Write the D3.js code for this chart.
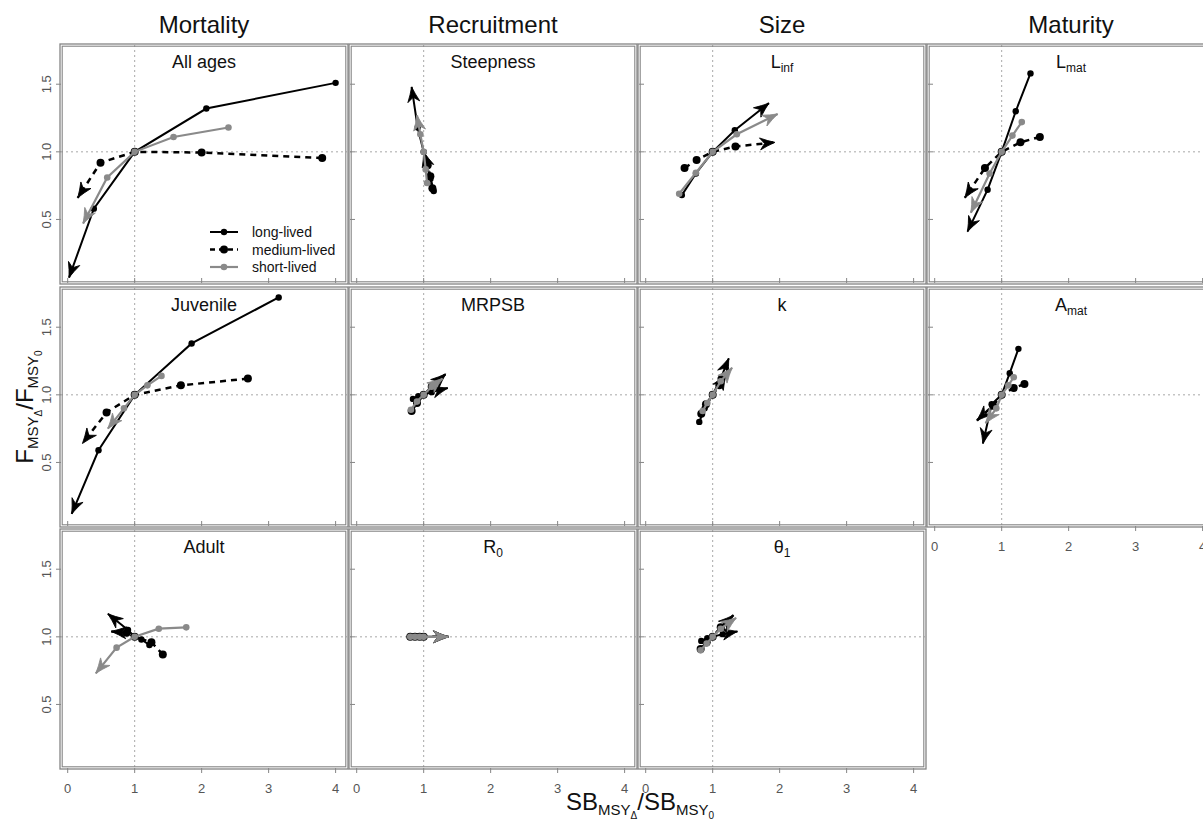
<!DOCTYPE html>
<html>
<head>
<meta charset="utf-8">
<script src="https://cdnjs.cloudflare.com/ajax/libs/d3/7.8.5/d3.min.js"></script>
<style>
  body { margin: 0; background: #fff; }
  svg { display: block; font-family: "Liberation Sans", Arial, sans-serif; }
</style>
</head>
<body>
<svg id="chart" width="1203" height="823"></svg>
<script>
// each series: points in order, the last one is the arrow tip
var allAgesLong = [[4.0, 1.51], [2.07, 1.32], [1, 1], [0.39, 0.58], [0.02, 0.07]];
var allAgesMedium = [[3.8, 0.955], [2.0, 0.995], [1, 1], [0.49, 0.92], [0.15, 0.66]];
var allAgesShort = [[2.4, 1.18], [1.58, 1.11], [1, 1], [0.59, 0.81], [0.23, 0.47]];

var steepLong = [[1.15, 0.71], [1.1, 0.8], [1, 1], [0.91, 1.18], [0.82, 1.48]];
var steepMedium = [[1.13, 0.73], [1.1, 0.82], [1.06, 0.9], [1.0, 1.0]];
var steepShort = [[1.05, 0.77], [1.03, 0.87], [1, 1], [0.95, 1.13], [0.9, 1.27]];

var linfLong = [[0.54, 0.68], [0.75, 0.84], [1, 1], [1.33, 1.16], [1.84, 1.36]];
var linfMedium = [[0.58, 0.88], [0.76, 0.94], [1, 1], [1.34, 1.04], [1.93, 1.07]];
var linfShort = [[0.5, 0.69], [0.75, 0.845], [1, 1], [1.36, 1.13], [1.97, 1.28]];

var lmatLong = [[1.43, 1.58], [1.21, 1.30], [1, 1], [0.79, 0.72], [0.49, 0.41]];
var lmatMedium = [[1.57, 1.11], [1.28, 1.07], [1, 1], [0.75, 0.88], [0.45, 0.66]];
var lmatShort = [[1.3, 1.22], [1.16, 1.12], [1, 1], [0.82, 0.84], [0.54, 0.55]];

var juvLong = [[3.15, 1.72], [1.85, 1.38], [1, 1], [0.46, 0.59], [0.06, 0.12]];
var juvMedium = [[2.69, 1.12], [1.69, 1.07], [1, 1], [0.58, 0.87], [0.22, 0.64]];
var juvShort = [[1.4, 1.14], [1.19, 1.07], [1, 1], [0.84, 0.9], [0.6, 0.75]];

var mrpsbLong = [[0.84, 0.97], [0.92, 0.99], [1, 1], [1.12, 1.02], [1.36, 1.05]];
var mrpsbMedium = [[0.82, 0.88], [0.9, 0.94], [1, 1], [1.12, 1.06], [1.33, 1.155]];
var mrpsbShort = [[0.81, 0.89], [0.9, 0.95], [1, 1], [1.12, 1.06], [1.28, 1.12]];

var kLong = [[0.8, 0.8], [0.88, 0.9], [1, 1], [1.12, 1.12], [1.24, 1.27]];
var kMedium = [[0.83, 0.86], [0.9, 0.93], [1, 1], [1.1, 1.07], [1.2, 1.15]];
var kShort = [[0.85, 0.88], [0.92, 0.94], [1, 1], [1.12, 1.1], [1.29, 1.2]];

var amatLong = [[1.25, 1.34], [1.12, 1.16], [1, 1], [0.85, 0.93], [0.72, 0.64]];
var amatMedium = [[1.34, 1.08], [1.18, 1.05], [1, 1], [0.87, 0.92], [0.63, 0.81]];
var amatShort = [[1.18, 1.13], [1.1, 1.07], [1, 1], [0.92, 0.9], [0.76, 0.79]];

var adultLong = [[1.22, 0.94], [1.1, 0.98], [1, 1], [0.9, 1.05], [0.6, 1.17]];
var adultMedium = [[1.42, 0.87], [1.25, 0.96], [1, 1], [0.88, 1.03], [0.65, 1.04]];
var adultShort = [[1.77, 1.07], [1.36, 1.06], [1, 1], [0.73, 0.92], [0.42, 0.73]];

var r0Long = [[0.8, 1], [0.87, 1], [0.94, 1], [1, 1], [1.37, 1]];
var r0Medium = [[0.8, 1], [0.87, 1], [0.94, 1], [1, 1], [1.37, 1]];
var r0Short = [[0.8, 1], [0.87, 1], [0.94, 1], [1, 1], [1.37, 1]];

var thetaLong = [[0.83, 0.97], [0.92, 0.99], [1, 1], [1.15, 1.02], [1.37, 1.04]];
var thetaMedium = [[0.82, 0.91], [0.91, 0.96], [1, 1], [1.12, 1.07], [1.31, 1.16]];
var thetaShort = [[0.82, 0.9], [0.91, 0.95], [1, 1], [1.12, 1.06], [1.35, 1.14]];

var columnTitles = ['Mortality', 'Recruitment', 'Size', 'Maturity'];
var seriesNames = ['long-lived', 'medium-lived', 'short-lived'];
var xTicks = [0, 1, 2, 3, 4];
var yTicks = [0.5, 1.0, 1.5];

// row, col, label [main, subscript], series
var panels = [
  {row: 0, col: 0, label: ['All ages', ''], series: [allAgesLong, allAgesMedium, allAgesShort]},
  {row: 0, col: 1, label: ['Steepness', ''], series: [steepLong, steepMedium, steepShort]},
  {row: 0, col: 2, label: ['L', 'inf'], series: [linfLong, linfMedium, linfShort]},
  {row: 0, col: 3, label: ['L', 'mat'], series: [lmatLong, lmatMedium, lmatShort]},
  {row: 1, col: 0, label: ['Juvenile', ''], series: [juvLong, juvMedium, juvShort]},
  {row: 1, col: 1, label: ['MRPSB', ''], series: [mrpsbLong, mrpsbMedium, mrpsbShort]},
  {row: 1, col: 2, label: ['k', ''], series: [kLong, kMedium, kShort]},
  {row: 1, col: 3, label: ['A', 'mat'], series: [amatLong, amatMedium, amatShort]},
  {row: 2, col: 0, label: ['Adult', ''], series: [adultLong, adultMedium, adultShort]},
  {row: 2, col: 1, label: ['R', '0'], series: [r0Long, r0Medium, r0Short]},
  {row: 2, col: 2, label: ['\u03b8', '1'], series: [thetaLong, thetaMedium, thetaShort]}
];

var styles = [
  {color: '#000', width: 2, dash: null, r: 3.2},
  {color: '#000', width: 2.5, dash: '6,5', r: 4},
  {color: '#8a8a8a', width: 2.2, dash: null, r: 3.3}
];

var colX = [61, 350, 639, 928],
    rowY = [45, 288, 530],
    pw = 286,
    ph = 238,
    frame = '#858585',
    tickCol = '#555';

var svg = d3.select('#chart');

// column titles
svg.append('g').selectAll('text')
  .data(columnTitles)
  .enter().append('text')
  .attr('x', function(d, i) { return colX[i] + pw / 2; })
  .attr('y', 33)
  .attr('text-anchor', 'middle')
  .style('font-size', '24px')
  .attr('fill', '#111')
  .text(function(d) { return d; });

function bottomRow(p) {
  return p.row === 2 || (p.col === 3 && p.row === 1);
}

// filled, notched arrow head
function arrowHead(g, from, tip, color) {
  var ang = Math.atan2(tip[1] - from[1], tip[0] - from[0]) * 180 / Math.PI,
      L = 15, W = 12;
  g.append('path')
    .attr('d', 'M0,0Q' + (-0.5 * L) + ',' + (-W / 5) + ' ' + (-L) + ',' + (-W / 2) +
               'L' + (-0.7 * L) + ',0L' + (-L) + ',' + (W / 2) +
               'Q' + (-0.5 * L) + ',' + (W / 5) + ' 0,0Z')
    .attr('transform', 'translate(' + tip[0] + ',' + tip[1] + ') rotate(' + ang + ')')
    .attr('fill', color)
    .attr('stroke', color)
    .attr('stroke-width', 0.8);
}

panels.forEach(function(p, pi) {
  var x0 = colX[p.col], y0 = rowY[p.row];
  var x = d3.scaleLinear().domain([-0.1, 4.17]).range([x0, x0 + pw]);
  var y = d3.scaleLinear().domain([0.03, 1.79]).range([y0 + ph, y0]);
  var g = svg.append('g');

  g.append('clipPath').attr('id', 'clip' + pi)
    .append('rect').attr('x', x0).attr('y', y0).attr('width', pw).attr('height', ph);

  // reference lines
  g.append('line')
    .attr('x1', x(1)).attr('x2', x(1)).attr('y1', y0).attr('y2', y0 + ph)
    .attr('stroke', '#a8a8a8').attr('stroke-dasharray', '2,3');
  g.append('line')
    .attr('x1', x0).attr('x2', x0 + pw).attr('y1', y(1)).attr('y2', y(1))
    .attr('stroke', '#a8a8a8').attr('stroke-dasharray', '2,3');

  // ticks
  var out = bottomRow(p);
  g.append('g').selectAll('line')
    .data(xTicks).enter().append('line')
    .attr('x1', function(d) { return x(d); }).attr('x2', function(d) { return x(d); })
    .attr('y1', y0 + ph).attr('y2', y0 + ph + (out ? 5 : -5))
    .attr('stroke', frame);
  g.append('g').selectAll('line')
    .data(yTicks).enter().append('line')
    .attr('y1', function(d) { return y(d); }).attr('y2', function(d) { return y(d); })
    .attr('x1', x0).attr('x2', x0 + (p.col === 0 ? -5 : 5))
    .attr('stroke', frame);

  if (out) {
    g.append('g').selectAll('text')
      .data(xTicks).enter().append('text')
      .attr('x', function(d) { return x(d); })
      .attr('y', y0 + ph + 25)
      .attr('text-anchor', 'middle')
      .style('font-size', '13px')
      .attr('fill', tickCol)
      .text(function(d) { return d; });
  }
  if (p.col === 0) {
    g.append('g').selectAll('text')
      .data(yTicks).enter().append('text')
      .attr('transform', function(d) { return 'translate(' + (x0 - 10) + ',' + y(d) + ') rotate(-90)'; })
      .attr('text-anchor', 'middle')
      .style('font-size', '13px')
      .attr('fill', tickCol)
      .text(function(d) { return d.toFixed(1); });
  }

  // series
  var dg = g.append('g').attr('clip-path', 'url(#clip' + pi + ')');
  var line = d3.line()
    .x(function(d) { return x(d[0]); })
    .y(function(d) { return y(d[1]); });

  p.series.forEach(function(s, si) {
    var st = styles[si];
    dg.append('path')
      .attr('d', line(s))
      .attr('fill', 'none')
      .attr('stroke', st.color)
      .attr('stroke-width', st.width)
      .attr('stroke-dasharray', st.dash);
    dg.selectAll('.pt' + si)
      .data(s.slice(0, s.length - 1))
      .enter().append('circle')
      .attr('class', 'pt' + si)
      .attr('cx', function(d) { return x(d[0]); })
      .attr('cy', function(d) { return y(d[1]); })
      .attr('r', st.r)
      .attr('fill', st.color);
    var a = s[s.length - 2], b = s[s.length - 1];
    arrowHead(dg, [x(a[0]), y(a[1])], [x(b[0]), y(b[1])], st.color);
  });

  // panel label
  var t = g.append('text')
    .attr('x', x0 + pw / 2)
    .attr('y', y0 + 23)
    .attr('text-anchor', 'middle')
    .style('font-size', '18px')
    .attr('fill', '#111');
  t.append('tspan').text(p.label[0]);
  if (p.label[1]) {
    t.append('tspan').attr('dy', 4).style('font-size', '12px').text(p.label[1]);
  }

  // double frame
  g.append('rect')
    .attr('x', x0 - 1).attr('y', y0 - 1).attr('width', pw + 2).attr('height', ph + 2)
    .attr('fill', 'none').attr('stroke', frame).attr('stroke-width', 1.3);
  g.append('rect')
    .attr('x', x0 + 1.2).attr('y', y0 + 1.2).attr('width', pw - 2.4).attr('height', ph - 2.4)
    .attr('fill', 'none').attr('stroke', frame).attr('stroke-width', 1.1);

  // legend in first panel
  if (pi === 0) {
    var lg = g.append('g');
    seriesNames.forEach(function(name, i) {
      var st = styles[i], ly = y0 + 187 + i * 17.5;
      lg.append('line')
        .attr('x1', x0 + 149).attr('x2', x0 + 177).attr('y1', ly).attr('y2', ly)
        .attr('stroke', st.color).attr('stroke-width', st.width)
        .attr('stroke-dasharray', st.dash ? '5,4' : null);
      lg.append('circle').attr('cx', x0 + 163).attr('cy', ly).attr('r', st.r).attr('fill', st.color);
      lg.append('text')
        .attr('x', x0 + 191).attr('y', ly + 5)
        .style('font-size', '14px')
        .attr('fill', '#111')
        .text(name);
    });
  }
});

// axis titles
var yl = svg.append('text')
  .attr('transform', 'translate(33,407) rotate(-90)')
  .attr('text-anchor', 'middle')
  .style('font-size', '24px')
  .attr('fill', '#111');
yl.append('tspan').text('F');
yl.append('tspan').attr('dy', 5).style('font-size', '15px').text('MSY');
yl.append('tspan').attr('dy', 4).style('font-size', '10px').text('\u0394');
yl.append('tspan').attr('dy', -9).text('/F');
yl.append('tspan').attr('dy', 5).style('font-size', '15px').text('MSY');
yl.append('tspan').attr('dy', 4).style('font-size', '10px').text('0');

var xl = svg.append('text')
  .attr('x', 640).attr('y', 810)
  .attr('text-anchor', 'middle')
  .style('font-size', '24px')
  .attr('fill', '#111');
xl.append('tspan').text('SB');
xl.append('tspan').attr('dy', 5).style('font-size', '15px').text('MSY');
xl.append('tspan').attr('dy', 4).style('font-size', '10px').text('\u0394');
xl.append('tspan').attr('dy', -9).text('/SB');
xl.append('tspan').attr('dy', 5).style('font-size', '15px').text('MSY');
xl.append('tspan').attr('dy', 4).style('font-size', '10px').text('0');
</script>
</body>
</html>
